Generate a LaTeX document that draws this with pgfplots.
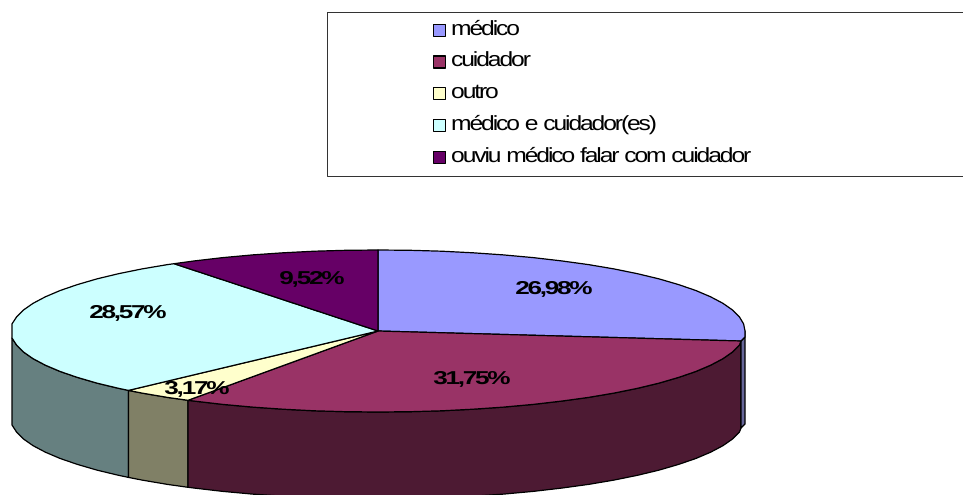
\documentclass[border=0pt]{standalone}
\usepackage{fontspec}
\setmainfont{Liberation Sans}
\newfontfamily\legfont[FakeStretch=1.2,LetterSpace=-10.2]{Liberation Sans}
\newfontfamily\labfont[FakeStretch=1.4,LetterSpace=-12]{Liberation Sans Bold}
\usepackage{pgfplots}
\pgfplotsset{compat=1.18}
\definecolor{cA}{HTML}{9999FF}
\definecolor{cB}{HTML}{993366}
\definecolor{cC}{HTML}{FFFFCC}
\definecolor{cD}{HTML}{CCFFFF}
\definecolor{cE}{HTML}{660066}
\definecolor{wA}{HTML}{666699}
\definecolor{wB}{HTML}{4D1A33}
\definecolor{wC}{HTML}{808066}
\definecolor{wD}{HTML}{668080}
\newcommand{\lab}[1]{{\fontsize{14}{16}\labfont #1}}
\begin{document}
\begin{tikzpicture}
\useasboundingbox (0,0) rectangle (722.25pt,371.25pt);
\begin{axis}[
  at={(0,0)}, anchor=south west,
  scale only axis, width=722.25pt, height=371.25pt,
  xmin=0, xmax=963, ymin=0, ymax=495, y dir=reverse,
  hide axis, clip=false,
  area legend,
  legend cell align=left,
  legend style={
    at={(axis cs:433,19.5)}, anchor=north west, draw=none, fill=none,
    font=\fontsize{15.4}{18}\legfont,
    row sep=8.0pt, column sep=3.5pt, inner sep=0pt,
    nodes={inner sep=0pt, text height=11.6pt, text depth=4.2pt},
  },
  legend image code/.code={
    \draw[line width=0.9pt, #1, draw=black] (0pt,-4.5pt) rectangle (9pt,4.5pt);
  },
  every axis plot/.append style={line width=0.9pt, draw=black, line join=round},
]
% legend frame
\addplot[forget plot, line width=0.7pt, draw=black!80] coordinates {(963,12) (327,12) (327,176) (963,176)};

% side walls
\addplot[forget plot, fill=wD] coordinates {
(128.5,390.4)(118.5,388.3)(96.9,383.1)(77.4,377.4)(60.2,371.5)(45.4,365.2)(33.1,358.7)(23.5,352)(16.6,345.1)(12,338)
(12,425)(16.6,432.1)(23.5,439)(33.1,445.7)(45.4,452.2)(60.2,458.5)(77.4,464.4)(96.9,470.1)(118.5,475.3)(128.5,477.4)} -- cycle;
\addplot[forget plot, fill=wC] coordinates {
(188,400.3)(167.5,397.4)(142.1,393.1)(128.5,390.4)
(128.5,477.4)(142.1,480.1)(167.5,484.4)(188,487.3)} -- cycle;
\addplot[forget plot, fill=wB] coordinates {
(741,341)(739.4,345.1)(732.5,352)(722.9,358.7)(710.6,365.2)(695.8,371.5)(678.6,377.4)(659.1,383.1)(637.5,388.3)(613.9,393.1)(588.5,397.4)(561.5,401.1)(533.1,404.4)(503.5,407.1)(473,409.2)(441.7,410.8)(410,411.7)(378,412)(346,411.7)(314.3,410.8)(283,409.2)(252.5,407.1)(222.9,404.4)(194.5,401.1)(188,400.3)
(188,487.3)(194.5,488.1)(222.9,491.4)(252.5,494.1)(283,496.2)(314.3,497.8)(346,498.7)(378,499)(410,498.7)(441.7,497.8)(473,496.2)(503.5,494.1)(533.1,491.4)(561.5,488.1)(588.5,484.4)(613.9,480.1)(637.5,475.3)(659.1,470.1)(678.6,464.4)(695.8,458.5)(710.6,452.2)(722.9,445.7)(732.5,439)(739.4,432.1)(741,428)} -- cycle;
\addplot[forget plot, fill=wA] coordinates {
(745,331)(745,337)(741,341)(741,428)(745,424)} -- cycle;

% top slices
\addplot[fill=cA] coordinates {
(378,331)(378,250)(410,250.3)(441.7,251.2)(473,252.8)(503.5,254.9)(533.1,257.6)(561.5,260.9)(588.5,264.6)(613.9,268.9)(637.5,273.7)(659.1,278.9)(678.6,284.6)(695.8,290.5)(710.6,296.8)(722.9,303.3)(732.5,310)(739.4,316.9)(743.6,323.9)(745,331)(745,337)(741,341)} -- cycle;
\addlegendentry{médico}
\addplot[fill=cB] coordinates {
(378,331)(741,341)(739.4,345.1)(732.5,352)(722.9,358.7)(710.6,365.2)(695.8,371.5)(678.6,377.4)(659.1,383.1)(637.5,388.3)(613.9,393.1)(588.5,397.4)(561.5,401.1)(533.1,404.4)(503.5,407.1)(473,409.2)(441.7,410.8)(410,411.7)(378,412)(346,411.7)(314.3,410.8)(283,409.2)(252.5,407.1)(222.9,404.4)(194.5,401.1)(188,400.3)} -- cycle;
\addlegendentry{cuidador}
\addplot[fill=cC] coordinates {
(378,331)(188,400.3)(167.5,397.4)(142.1,393.1)(128.5,390.4)} -- cycle;
\addlegendentry{outro}
\addplot[fill=cD] coordinates {
(378,331)(128.5,390.4)(118.5,388.3)(96.9,383.1)(77.4,377.4)(60.2,371.5)(45.4,365.2)(33.1,358.7)(23.5,352)(16.6,345.1)(12,338)(12,323.9)(16.6,316.9)(23.5,310)(33.1,303.3)(45.4,296.8)(60.2,290.5)(77.4,284.6)(96.9,278.9)(118.5,273.7)(142.1,268.9)(167.5,264.6)(174,263.7)} -- cycle;
\addlegendentry{médico e cuidador(es)}
\addplot[fill=cE] coordinates {
(378,331)(174,263.7)(194.5,260.9)(222.9,257.6)(252.5,254.9)(283,252.8)(314.3,251.2)(346,250.3)(378,250)} -- cycle;
\addlegendentry{ouviu médico falar com cuidador}

% data labels
\node at (axis cs:554,289) {\lab{26,98\%}};
\node at (axis cs:472,379) {\lab{31,75\%}};
\node at (axis cs:197,389) {\lab{3,17\%}};
\node at (axis cs:128,313) {\lab{28,57\%}};
\node at (axis cs:312,279) {\lab{9,52\%}};
\end{axis}
\end{tikzpicture}
\end{document}
